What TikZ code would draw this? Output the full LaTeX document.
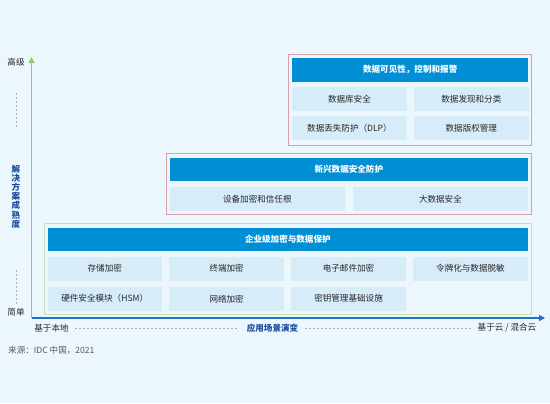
\documentclass[tikz,border=0pt]{standalone}
\usepackage{fontspec}
\setmainfont{Noto Sans CJK SC}
\usepackage{xcolor}
\usetikzlibrary{arrows.meta,positioning}
\definecolor{bgcol}{RGB}{236,247,253}
\definecolor{hdrblue}{RGB}{0,143,213}
\definecolor{cellblue}{RGB}{214,236,249}
\definecolor{grppink}{RGB}{216,160,172}
\definecolor{grpgreen}{RGB}{190,226,180}
\definecolor{axgreen}{RGB}{141,202,114}
\definecolor{axblue}{RGB}{36,112,192}
\definecolor{lblblue}{RGB}{26,78,156}
\newcommand{\cellfont}{\fontsize{8.6}{10}\selectfont}

\begin{document}
\begin{tikzpicture}[
      x=1bp, y=-1bp,
      grp/.style={draw=#1, line width=0.8bp, inner sep=0pt, anchor=north west},
      hdr/.style={fill=hdrblue, text=white, font=\cellfont\bfseries, minimum height=23.4bp, inner sep=0pt, anchor=north west},
      cell/.style={fill=cellblue, text=black!85, font=\cellfont, minimum width=114.5bp, minimum height=24bp, inner sep=0pt},
      widecell/.style={cell, minimum width=175.7bp},
      lbl/.style={font=\cellfont, text=black!85, inner sep=0pt},
      dashline/.style={draw=black!30, line width=0.5bp, dash pattern=on 2bp off 2bp},
      node distance=7bp
    ]
      \fill[bgcol] (0,0) rectangle (550,403);
      \useasboundingbox (0,0) rectangle (550,403);
      % top group
      \node[grp=grppink, minimum width=243bp, minimum height=90.5bp] (g1) at (288,54) {};
      \node[hdr, minimum width=236bp] (h1) at (292,58) {数据可见性，控制和报警};
      \node[cell, anchor=north west] (db) at ([yshift=-5bp]h1.south west) {数据库安全};
      \node[cell, right=of db] (disc) {数据发现和分类};
      \node[cell, anchor=north west] (dlp) at ([yshift=-5bp]db.south west) {数据丢失防护（DLP）};
      \node[cell, right=of dlp] (drm) {数据版权管理};
      % middle group
      \node[grp=grppink, minimum width=364.7bp, minimum height=61bp] (g2) at (166,153.3) {};
      \node[hdr, minimum width=358.7bp] (h2) at (169.3,157.3) {新兴数据安全防护};
      \node[widecell, anchor=north west] (dev) at ([yshift=-5.5bp]h2.south west) {设备加密和信任根};
      \node[widecell, right=of dev] (big) {大数据安全};
      % bottom group
      \node[grp=grpgreen, minimum width=487bp, minimum height=91bp] (g3) at (44,222.5) {};
      \node[hdr, minimum width=480.7bp] (h3) at (47.3,227.3) {企业级加密与数据保护};
      \node[cell, anchor=north west] (stor) at ([yshift=-5.3bp]h3.south west) {存储加密};
      \node[cell, right=of stor] (term) {终端加密};
      \node[cell, right=of term] (mail) {电子邮件加密};
      \node[cell, right=of mail] (tok) {令牌化与数据脱敏};
      \node[cell, anchor=north west] (hsm) at ([yshift=-5.7bp]stor.south west) {硬件安全模块（HSM）};
      \node[cell, right=of hsm] (net) {网络加密};
      \node[cell, right=of net] (kmi) {密钥管理基础设施};
      % axes
      \coordinate (o) at (31.5,318);
      \coordinate (ytip) at (31.5,57);
      \coordinate (xtip) at (545,318);
      \draw[axgreen, line width=1bp, -{Triangle[length=6bp,width=6bp]}] (o) -- (ytip);
      \draw[axblue, line width=1.1bp, -{Triangle[length=6bp,width=6bp]}] (o) -- (xtip);
      % vertical axis labels
      \node[lbl] (hi) at (16,62) {高级};
      \node[lbl] (lo) at (16,312) {简单};
      \node[font=\cellfont\bfseries, text=lblblue, align=center, inner sep=0pt] (mat) at (16,196.5)
        {解\\[-0.8bp]决\\[-0.8bp]方\\[-0.8bp]案\\[-0.8bp]成\\[-0.8bp]熟\\[-0.8bp]度};
      \coordinate (d1a) at (16,93);
      \coordinate (d1b) at (16,127);
      \coordinate (d2a) at (16,270);
      \coordinate (d2b) at (16,305);
      \draw[dashline] (d1a) -- (d1b);
      \draw[dashline] (d2a) -- (d2b);
      % horizontal axis labels
      \node[lbl] (local) at (51.5,328) {基于本地};
      \node[lbl, font=\cellfont\bfseries, text=lblblue] (evo) at (272.5,328) {应用场景演变};
      \node[lbl] (cloud) at (507,328) {基于云 / 混合云};
      \draw[dashline] ([xshift=6bp]local.east) -- ([xshift=-8bp]evo.west);
      \draw[dashline] ([xshift=7bp]evo.east) -- ([xshift=-7bp]cloud.west);
      % source
      \node[lbl, text=black!65, anchor=west] (src) at (8,350) {来源：IDC 中国，2021};
    \end{tikzpicture}
\end{document}
